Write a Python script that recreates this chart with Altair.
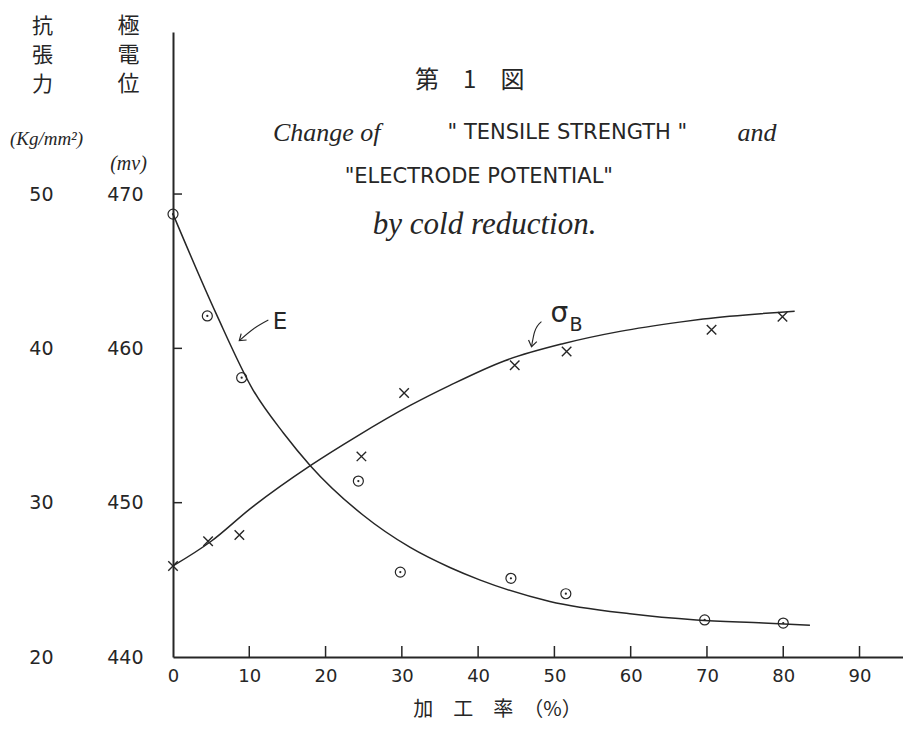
import altair as alt
import pandas as pd

# ---------------- data ----------------
# Electrode potential E (mV) – measured points (circled dots)
e_x = [0, 4.5, 9, 24.3, 29.8, 44.3, 51.5, 69.7, 80]
e_mv = [468.7, 462.1, 458.1, 451.4, 445.5, 445.1, 444.1, 442.4, 442.2]

# Tensile strength sigma_B (kg/mm2) – measured points (crosses)
s_x = [0, 4.6, 8.7, 24.7, 30.3, 44.8, 51.6, 70.6, 79.9]
s_kg = [25.9, 27.5, 27.9, 33.0, 37.1, 38.9, 39.8, 41.2, 42.05]

# hand-drawn fitted curves
ec_x = [0, 5.7, 10.5, 14.5, 18, 24.9, 31.1, 36.3, 40.2, 49.4, 59.9, 68.6, 77.4, 83.5]
ec_mv = [468.7, 462.2, 457.3, 454.5, 452.4, 449.2, 447.1, 445.8, 445.0, 443.6, 442.8, 442.4, 442.2, 442.05]
sc_x = [0, 5, 10.1, 18, 24.1, 31.1, 36.3, 43.5, 51.1, 58.6, 66.4, 69.5, 81.5]
sc_kg = [25.9, 27.5, 29.6, 32.4, 34.3, 36.3, 37.6, 39.2, 40.3, 41.1, 41.7, 41.9, 42.4]

# axis ticks
x_ticks = [0, 10, 20, 30, 40, 50, 60, 70, 80, 90]
mv_ticks = [440, 450, 460, 470]
kg_ticks = [20, 30, 40, 50]

# annotation arrows (x in %, y in mV)
arrow_g = ["E", "E", "E", "S", "S", "S"]
arrow_i = [0, 1, 2, 0, 1, 2]
arrow_x = [12.5, 10.62, 8.69, 48.3, 47.4, 47.0]
arrow_y = [461.84, 461.29, 460.5, 461.73, 461.06, 460.11]
head_x = [8.69, 47.0]
head_y = [460.5, 460.11]
head_angle = [140, 101]

# texts (x in %, y in mV)
cjk_title = ["第　1　図"]
cjk_title_x = [38.9]
cjk_title_y = [477.3]
script_txt = ["Change of", "and", "by cold reduction."]
script_x = [13.1, 74.0, 26.2]
script_y = [473.96, 473.96, 468.0]
script_size = [26, 26, 31]
caps_txt = ['" TENSILE STRENGTH "', '"ELECTRODE POTENTIAL"']
caps_x = [36.0, 22.5]
caps_y = [473.96, 471.1]
lbl_txt = ["E", "σ", "B"]
lbl_x = [14.02, 50.66, 52.82]
lbl_y = [461.71, 462.23, 461.5]
lbl_size = [23, 28, 19]

INK = "#262626"

# ---------------- tables ----------------
e_pts = pd.DataFrame({"x": e_x, "v": e_mv})
s_pts = pd.DataFrame({"x": s_x, "v": s_kg})
e_cur = pd.DataFrame({"x": ec_x, "v": ec_mv})
s_cur = pd.DataFrame({"x": sc_x, "v": sc_kg})
xt = pd.DataFrame({"t": x_ticks[1:]})
yt = pd.DataFrame({"t": mv_ticks[1:]})
arr = pd.DataFrame({"g": arrow_g, "i": arrow_i, "x": arrow_x, "y": arrow_y})
heads = pd.DataFrame({"x": head_x, "y": head_y, "a": head_angle})
t_cjk = pd.DataFrame({"x": cjk_title_x, "y": cjk_title_y, "t": cjk_title})
t_script = pd.DataFrame({"x": script_x, "y": script_y, "t": script_txt, "s": script_size})
t_caps = pd.DataFrame({"x": caps_x, "y": caps_y, "t": caps_txt})
t_lbl = pd.DataFrame({"x": lbl_x, "y": lbl_y, "t": lbl_txt, "s": lbl_size})

W, H = 730, 625
x_scale = alt.Scale(domain=[0, 95.7], nice=False, zero=False)
mv_scale = alt.Scale(domain=[440, 480.5], nice=False, zero=False)
kg_scale = alt.Scale(domain=[20, 60.5], nice=False, zero=False)

common = dict(grid=False, labelColor=INK, titleColor=INK, tickColor=INK, domainColor=INK)

# main x axis (line, labels, title)
x_axis = alt.Axis(
    values=x_ticks, orient="bottom", ticks=False, labelPadding=10, labelFontSize=18,
    labelFlush=False, domain=True, domainWidth=2, labelFont="DejaVu Sans",
    title="加　工　率　（%）", titleFont="Noto Sans CJK JP", titleFontSize=20,
    titleFontWeight="normal", titleX=324, titleY=52, titleAlign="center",
    titleBaseline="middle", **common,
)
# main mV axis (line, labels, kanji title)
mv_axis = alt.Axis(
    values=mv_ticks, orient="left", ticks=False, labelPadding=30, labelFontSize=19,
    labelFont="DejaVu Sans", domain=True, domainWidth=2,
    title=["極", "電", "位"], titleAngle=0, titleX=-45, titleY=-17,
    titleAlign="center", titleBaseline="top", titleFont="Noto Sans CJK JP",
    titleFontSize=22, titleLineHeight=29, titleFontWeight="normal", **common,
)
mv_unit_axis = alt.Axis(
    orient="left", labels=False, ticks=False, domain=False,
    title="(mv)", titleAngle=0, titleX=-45, titleY=131, titleAlign="center",
    titleBaseline="middle", titleFont="Liberation Serif", titleFontStyle="italic",
    titleFontSize=20, titleFontWeight="normal", **common,
)
kg_axis = alt.Axis(
    values=kg_ticks, orient="left", offset=90, domain=False, ticks=False,
    labelPadding=30, labelFontSize=19, labelFont="DejaVu Sans",
    title=["抗", "張", "力"], titleAngle=0, titleX=-41, titleY=-17,
    titleAlign="center", titleBaseline="top", titleFont="Noto Sans CJK JP",
    titleFontSize=21, titleLineHeight=29, titleFontWeight="normal", **common,
)
kg_unit_axis = alt.Axis(
    orient="left", labels=False, ticks=False, domain=False,
    title="(Kg/mm²)", titleAngle=0, titleX=-127, titleY=106, titleAlign="center",
    titleBaseline="middle", titleFont="Liberation Serif", titleFontStyle="italic",
    titleFontSize=19, titleFontWeight="normal", **common,
)


def X(f, ax=None):
    return alt.X(f, type="quantitative", scale=x_scale, axis=ax)


def YM(f, ax=None):
    return alt.Y(f, type="quantitative", scale=mv_scale, axis=ax)


def YK(f, ax=None):
    return alt.Y(f, type="quantitative", scale=kg_scale, axis=ax)


# ---------------- layers ----------------
e_line = alt.Chart(e_cur).mark_line(color=INK, strokeWidth=1.5, interpolate="monotone").encode(
    x=X("x", x_axis), y=YM("v", mv_axis)
)
s_line = alt.Chart(s_cur).mark_line(color=INK, strokeWidth=1.5, interpolate="monotone").encode(
    x=X("x"), y=YK("v", kg_axis)
)
# inward tick marks on the x axis (short upward strokes at each tick value)
x_tick = alt.Chart(xt).mark_point(
    shape="M 0 0 L 0 -1", filled=False, size=484, color=INK, strokeWidth=1.5, opacity=1
).encode(
    x=X("t"), y=alt.YDatum(440, type="quantitative", scale=mv_scale, axis=None)
)
# inward tick marks on the y axis (short rightward strokes at each tick value)
y_tick = alt.Chart(yt).mark_point(
    shape="M 0 0 L 1 0", filled=False, size=324, color=INK, strokeWidth=1.5, opacity=1
).encode(
    x=alt.XDatum(0, type="quantitative", scale=x_scale, axis=None), y=YM("t")
)
e_circ = alt.Chart(e_pts).mark_point(shape="circle", filled=False, size=100, color=INK, strokeWidth=1.2, opacity=1).encode(
    x=X("x"), y=YM("v")
)
e_dot = alt.Chart(e_pts).mark_point(shape="circle", filled=True, size=5, color=INK, opacity=1).encode(
    x=X("x"), y=YM("v", mv_unit_axis)
)
s_cross = alt.Chart(s_pts).mark_point(
    shape="M -1 -1 L 1 1 M -1 1 L 1 -1", filled=False, size=90, color=INK, strokeWidth=1.4, opacity=1
).encode(
    x=X("x"), y=YK("v", kg_unit_axis)
)
arrows = alt.Chart(arr).mark_line(color=INK, strokeWidth=1.1, interpolate="monotone").encode(
    x=X("x"), y=YM("y"), detail="g:N", order="i:Q"
)
arrow_heads = alt.Chart(heads).mark_point(
    shape="M -1 -0.7 L 0 0 L -1 0.7", filled=False, size=144, color=INK, strokeWidth=1.2, opacity=1
).encode(
    x=X("x"), y=YM("y"), angle=alt.Angle("a:Q", scale=None)
)
txt_cjk = alt.Chart(t_cjk).mark_text(font="Noto Sans CJK JP", fontSize=24, color=INK, align="center", baseline="middle").encode(
    x=X("x"), y=YM("y"), text="t:N"
)
txt_script = alt.Chart(t_script).mark_text(font="Liberation Serif", fontStyle="italic", color=INK, align="left", baseline="middle").encode(
    x=X("x"), y=YM("y"), text="t:N", size=alt.Size("s:Q", scale=None)
)
txt_caps = alt.Chart(t_caps).mark_text(font="DejaVu Sans", fontSize=21, color=INK, align="left", baseline="middle").encode(
    x=X("x"), y=YM("y"), text="t:N"
)
txt_lbl = alt.Chart(t_lbl).mark_text(font="DejaVu Sans", color=INK, align="center", baseline="middle").encode(
    x=X("x"), y=YM("y"), text="t:N", size=alt.Size("s:Q", scale=None)
)

chart = (
    alt.layer(e_line, s_line, x_tick, y_tick, e_circ, e_dot, s_cross, arrows, arrow_heads,
              txt_cjk, txt_script, txt_caps, txt_lbl)
    .resolve_scale(y="independent")
    .resolve_axis(x="independent", y="independent")
    .properties(
        width=W, height=H,
        padding={"left": 165, "top": 24, "right": 0, "bottom": 66},
        autosize=alt.AutoSizeParams(type="none"),
        background="white",
    )
    .configure_view(stroke=None)
)

chart.save("out.html", embed_options={"renderer": "svg", "actions": False})
